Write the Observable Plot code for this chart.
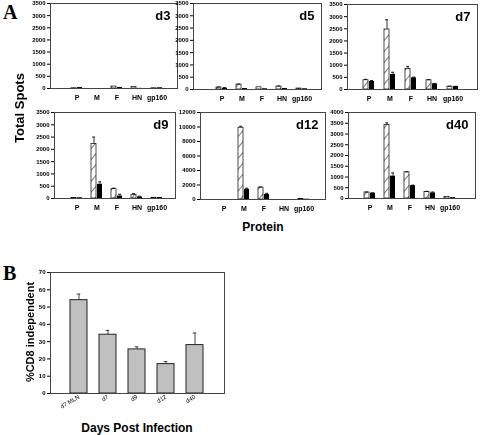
<!DOCTYPE html>
<html><head><meta charset="utf-8">
<script src="https://cdn.jsdelivr.net/npm/d3@7"></script>
<script src="https://cdn.jsdelivr.net/npm/@observablehq/plot@0.6"></script>
<style>
body{margin:0;background:#fff;}
#root{position:relative;width:480px;height:435px;overflow:hidden;font-family:"Liberation Sans",Arial,sans-serif;background:#fff;}
#root svg.panel{position:absolute;overflow:visible;will-change:transform;}
.lbl{position:absolute;font-weight:bold;white-space:nowrap;color:#000;line-height:1;}
.rot{transform:translate(-50%,-50%) rotate(-90deg);}
.ctr{transform:translate(-50%,-50%);}
.letter{font-family:"Liberation Serif","Times New Roman",serif;font-size:20px;}
</style></head><body><div id="root"></div>
<script>
// ---------- data (panel A: total spots per protein) ----------
const proteins = ["P","M","F","HN","gp160"];

const d3Open  = [10, 0, 80, 70, 10];
const d3Solid = [40, 0, 40, 5, 30];
const d3OpenErr  = [0, 0, 0, 0, 0];
const d3SolidErr = [0, 0, 0, 0, 0];

const d5Open  = [80, 200, 90, 120, 40];
const d5Solid = [50, 40, 30, 40, 30];
const d5OpenErr  = [20, 20, 0, 20, 0];
const d5SolidErr = [30, 0, 0, 0, 0];

const d7Open  = [380, 2470, 850, 380, 120];
const d7Solid = [330, 620, 480, 230, 120];
const d7OpenErr  = [40, 400, 100, 20, 10];
const d7SolidErr = [40, 90, 30, 20, 10];

const d9Open  = [20, 2220, 380, 150, 30];
const d9Solid = [30, 580, 100, 60, 40];
const d9OpenErr  = [0, 280, 40, 50, 0];
const d9SolidErr = [0, 100, 70, 30, 0];

const d12Open  = [0, 9900, 1650, 0, 50];
const d12Solid = [0, 1400, 700, 0, 40];
const d12OpenErr  = [0, 200, 60, 0, 0];
const d12SolidErr = [0, 150, 150, 0, 0];

const d40Open  = [280, 3420, 1220, 300, 80];
const d40Solid = [250, 1040, 600, 260, 40];
const d40OpenErr  = [20, 100, 20, 30, 0];
const d40SolidErr = [10, 150, 20, 40, 0];

const ticks3500  = [0,500,1000,1500,2000,2500,3000,3500];
const ticks12000 = [0,2000,4000,6000,8000,10000,12000];
const ticks4000  = [0,500,1000,1500,2000,2500,3000,3500,4000];

// ---------- data (panel B) ----------
const daysB   = ["d7 MLN","d7","d9","d12","d40"];
const pctB    = [54, 34, 25.5, 17, 28];
const pctErrB = [3.5, 2.5, 1.5, 1.5, 7];
const ticksB  = [0,10,20,30,40,50,60,70];

const root = document.getElementById("root");
root.insertAdjacentHTML("beforeend",
 `<svg width="0" height="0" style="position:absolute"><defs>
   <pattern id="hatch" patternUnits="userSpaceOnUse" width="7" height="7" patternTransform="rotate(40)">
     <rect width="7" height="7" fill="#fff"></rect>
     <line x1="0" y1="0" x2="0" y2="7" stroke="#000" stroke-width="1"></line>
   </pattern></defs></svg>`);

const FONT = '"Liberation Sans", Arial, sans-serif';

function place(svg, left, top) {
  svg.classList.add("panel");
  svg.style.left = left + "px";
  svg.style.top = top + "px";
  root.appendChild(svg);
}

function dayPanel(title, open, solid, openErr, solidErr, yTicks, box) {
  const mL = 30, mR = 4, mT = 4, mB = 18;
  const svgLeft = box.axis - mL, svgTop = box.top - mT;
  const width = (box.right - box.axis) + mL + mR;
  const height = (box.bottom - box.top) + mT + mB;
  const c0 = box.first - svgLeft, c4 = box.last - svgLeft;
  const step = (c4 - c0) / (proteins.length - 1);
  const bw = 11, pi = 1 - bw / step, off = bw / 4 + 0.25;
  const rows = proteins.map((p, i) => ({protein: p, open: open[i], solid: solid[i], openErr: openErr[i], solidErr: solidErr[i]}));
  const oe = rows.filter(d => d.openErr > 0), se = rows.filter(d => d.solidErr > 0);
  const svg = Plot.plot({
    width, height, marginLeft: mL, marginRight: mR, marginTop: mT, marginBottom: mB,
    style: {fontFamily: FONT, fontSize: "6px", fontWeight: "bold", background: "transparent", color: "#000"},
    x: {type: "band", domain: proteins, range: [c0 - step / 2, c4 + step / 2], paddingInner: pi, paddingOuter: pi / 2, label: null},
    y: {domain: [0, yTicks[yTicks.length - 1]], label: null},
    marks: [
      Plot.barY(rows, {x: "protein", y: "open", fill: "url(#hatch)", stroke: "#000", strokeWidth: 0.7, insetRight: bw / 2 + 0.5}),
      Plot.barY(rows, {x: "protein", y: "solid", fill: "#000", insetLeft: bw / 2 + 0.5}),
      Plot.ruleX(oe, {x: "protein", y1: "open", y2: d => d.open + d.openErr, dx: -off, stroke: "#000", strokeWidth: 0.8}),
      Plot.tickY(oe, {x: "protein", y: d => d.open + d.openErr, insetLeft: 1, insetRight: bw - 4, stroke: "#000", strokeWidth: 0.8}),
      Plot.ruleX(se, {x: "protein", y1: "solid", y2: d => d.solid + d.solidErr, dx: off, stroke: "#000", strokeWidth: 0.8}),
      Plot.tickY(se, {x: "protein", y: d => d.solid + d.solidErr, insetLeft: bw - 4, insetRight: 1, stroke: "#000", strokeWidth: 0.8}),
      Plot.frame({stroke: "#444", strokeWidth: 1}),
      Plot.axisY({ticks: yTicks, tickFormat: d => String(d), tickSize: 3, tickPadding: 2, fontSize: 6}),
      Plot.axisX({tickSize: 0, tickPadding: 7, fontSize: 7}),
      Plot.text([title], {text: d => d, frameAnchor: "top-right", dx: -7, dy: 7, fontSize: 13, fontWeight: "bold"})
    ]
  });
  place(svg, svgLeft, svgTop);
}

dayPanel("d3",  d3Open,  d3Solid,  d3OpenErr,  d3SolidErr,  ticks3500,  {axis: 50,  right: 177, top: 3,   bottom: 88,  first: 75,  last: 157});
dayPanel("d5",  d5Open,  d5Solid,  d5OpenErr,  d5SolidErr,  ticks3500,  {axis: 193, right: 321, top: 3,   bottom: 89,  first: 220, last: 303});
dayPanel("d7",  d7Open,  d7Solid,  d7OpenErr,  d7SolidErr,  ticks3500,  {axis: 347, right: 477, top: 4,   bottom: 89,  first: 368, last: 453});
dayPanel("d9",  d9Open,  d9Solid,  d9OpenErr,  d9SolidErr,  ticks3500,  {axis: 54,  right: 175, top: 112, bottom: 198, first: 75,  last: 157});
dayPanel("d12", d12Open, d12Solid, d12OpenErr, d12SolidErr, ticks12000, {axis: 200, right: 325, top: 112, bottom: 199, first: 223, last: 303});
dayPanel("d40", d40Open, d40Solid, d40OpenErr, d40SolidErr, ticks4000,  {axis: 348, right: 475, top: 112, bottom: 198, first: 368, last: 450});

// ---------- panel B ----------
(function () {
  const box = {axis: 50, right: 224, top: 272, bottom: 393};
  const mL = 30, mR = 4, mT = 4, mB = 24;
  const rows = daysB.map((d, i) => ({day: d, v: pctB[i], e: pctErrB[i]}));
  const svg = Plot.plot({
    width: (box.right - box.axis) + mL + mR,
    height: (box.bottom - box.top) + mT + mB,
    marginLeft: mL, marginRight: mR, marginTop: mT, marginBottom: mB,
    style: {fontFamily: FONT, fontSize: "6px", fontWeight: "bold", background: "transparent", color: "#000"},
    x: {type: "band", domain: daysB, paddingInner: 0.4, paddingOuter: 0.7, label: null},
    y: {domain: [0, 70], label: null},
    marks: [
      Plot.ruleX(rows, {x: "day", y1: "v", y2: d => d.v + d.e, stroke: "#444", strokeWidth: 1}),
      Plot.tickY(rows, {x: "day", y: d => d.v + d.e, insetLeft: 6.7, insetRight: 6.7, stroke: "#444", strokeWidth: 1}),
      Plot.barY(rows, {x: "day", y: "v", fill: "#c0c0c0", stroke: "#222", strokeWidth: 1}),
      Plot.frame({stroke: "#444", strokeWidth: 1}),
      Plot.axisY({ticks: ticksB, tickSize: 3, tickPadding: 2, fontSize: 6}),
      Plot.axisX({tickSize: 0, tickPadding: 3, tickRotate: -30, fontSize: 6, fontWeight: "normal"})
    ]
  });
  place(svg, box.axis - mL, box.top - mT);
})();

// ---------- titles and letters ----------
function label(text, x, y, size, cls) {
  const el = document.createElement("div");
  el.className = "lbl " + cls;
  el.textContent = text;
  el.style.left = x + "px";
  el.style.top = y + "px";
  if (size) el.style.fontSize = size + "px";
  root.appendChild(el);
}
label("A", 3, 2, null, "letter");
label("B", 3, 263, null, "letter");
label("Total Spots", 19, 108, 13, "rot");
label("Protein", 263, 227, 12, "ctr");
label("%CD8 independent", 30, 332, 11, "rot");
label("Days Post Infection", 137, 428, 12, "ctr");
</script></body></html>
